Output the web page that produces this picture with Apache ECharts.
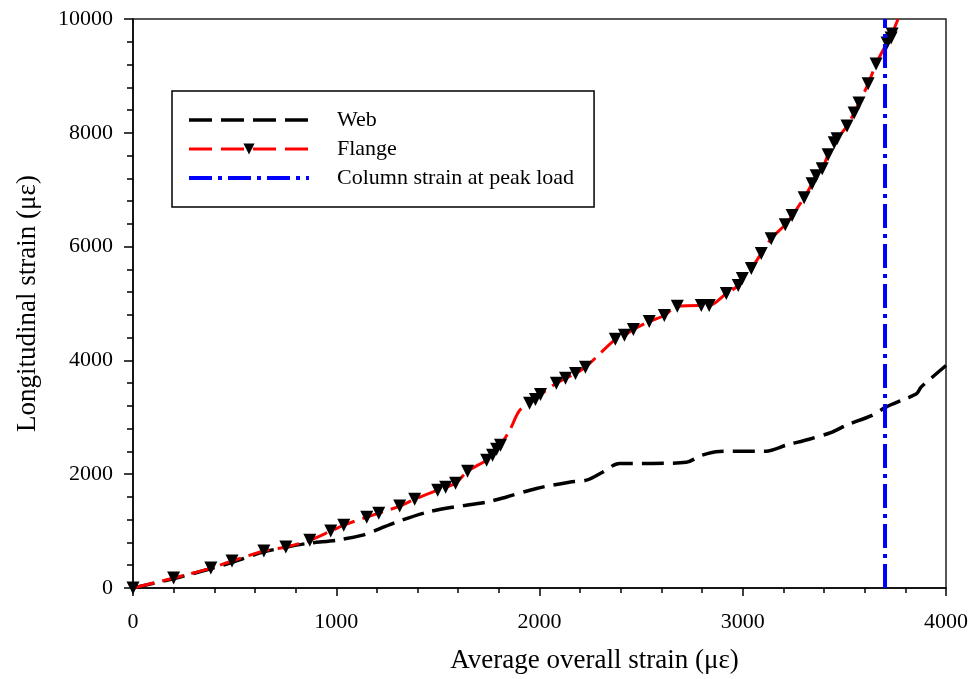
<!DOCTYPE html>
<html>
<head>
<meta charset="utf-8">
<script src="https://cdn.jsdelivr.net/npm/echarts@6/dist/echarts.min.js"></script>
<style>
  html, body { margin: 0; padding: 0; background: #fff; }
  #main { width: 971px; height: 679px; }
</style>
</head>
<body>
<div id="main"></div>
<script>
// Web gauge: average overall strain vs longitudinal strain
var webX = [0, 240, 477, 639, 757, 870, 1002, 1130, 1199, 1297, 1445, 1572, 1740, 1838, 1985, 2147, 2231, 2310, 2393, 2555, 2722, 2800, 2885, 3115, 3214, 3327, 3440, 3509, 3636, 3705, 3803, 3857, 3877, 3931, 4000];
var webY = [0, 200, 440, 630, 720, 790, 840, 930, 1020, 1160, 1330, 1420, 1510, 1600, 1750, 1860, 1895, 2035, 2190, 2190, 2210, 2335, 2400, 2405, 2510, 2615, 2740, 2860, 3035, 3180, 3330, 3420, 3530, 3700, 3910];

// Flange gauge (markers); points listed in flangeNoMarker are line-only
var flangeX = [0, 200, 383, 487, 644, 752, 870, 973, 1037, 1150, 1209, 1312, 1386, 1499, 1538, 1587, 1646, 1740, 1769, 1789, 1808, 1853, 1902, 1951, 1980, 2005, 2083, 2128, 2177, 2226, 2373, 2418, 2462, 2540, 2614, 2678, 2796, 2835, 2919, 2978, 2998, 3042, 3091, 3140, 3209, 3243, 3302, 3341, 3361, 3391, 3420, 3450, 3464, 3513, 3548, 3572, 3617, 3656, 3710, 3730, 3735, 3764];
var flangeY = [0, 175, 350, 475, 650, 720, 840, 1000, 1105, 1245, 1315, 1440, 1560, 1720, 1770, 1840, 2050, 2245, 2335, 2440, 2510, 2770, 3120, 3245, 3315, 3400, 3600, 3685, 3770, 3880, 4370, 4440, 4545, 4685, 4790, 4950, 4965, 4965, 5175, 5315, 5440, 5615, 5880, 6140, 6385, 6545, 6860, 7105, 7245, 7370, 7615, 7825, 7895, 8120, 8350, 8525, 8860, 9210, 9580, 9665, 9735, 10000];
var flangeNoMarker = [1853, 1902, 3764];

// Column strain at peak load
var peakStrain = 3700;
var yRange = [0, 10000];

var webData = webX.map(function (x, i) { return [x, webY[i]]; });
var flangeData = flangeX.map(function (x, i) {
  var item = { value: [x, flangeY[i]] };
  if (flangeNoMarker.indexOf(x) >= 0) item.symbol = 'none';
  return item;
});
var peakData = yRange.map(function (y) { return [peakStrain, y]; });

var font = 'Liberation Serif';
var plain = function (v) { return String(v); };
var chart = echarts.init(document.getElementById('main'));

chart.setOption({
  animation: false,
  backgroundColor: '#fff',
  grid: { left: 133, right: 24, top: 19, bottom: 91, show: true, borderColor: '#222', borderWidth: 1.5 },
  legend: {
    orient: 'vertical',
    left: 172,
    top: 91,
    padding: [18, 20, 18, 15],
    itemWidth: 120,
    itemHeight: 14,
    itemGap: 7,
    borderColor: '#000',
    borderWidth: 1.5,
    textStyle: { fontFamily: font, fontSize: 22, color: '#000', padding: [0, 0, 0, 23] },
    data: [
      { name: 'Web', itemStyle: { opacity: 0 }, lineStyle: { width: 3.5, type: [23, 9] } },
      { name: 'Flange', lineStyle: { width: 3, type: [23, 9] } },
      { name: 'Column strain at peak load', itemStyle: { opacity: 0 }, lineStyle: { width: 4, type: [23, 6, 4, 6] } }
    ]
  },
  xAxis: {
    type: 'value',
    min: 0, max: 4000, interval: 1000,
    name: 'Average overall strain (με)',
    nameLocation: 'middle',
    nameGap: 59,
    nameTextStyle: { fontFamily: font, fontSize: 27, color: '#000', padding: [0, 0, 0, 110] },
    axisLine: { onZero: false, lineStyle: { color: '#000', width: 1.5 } },
    axisTick: { inside: false, length: 8, lineStyle: { color: '#000', width: 1.5 } },
    minorTick: { show: true, splitNumber: 5, length: 5, lineStyle: { color: '#000', width: 1.5 } },
    axisLabel: { fontFamily: font, fontSize: 22, color: '#000', margin: 23, formatter: plain },
    splitLine: { show: false }
  },
  yAxis: {
    type: 'value',
    min: 0, max: 10000, interval: 2000,
    name: 'Longitudinal strain (με)',
    nameLocation: 'middle',
    nameGap: 92,
    nameTextStyle: { fontFamily: font, fontSize: 27, color: '#000' },
    axisLine: { onZero: false, lineStyle: { color: '#000', width: 1.5 } },
    axisTick: { inside: false, length: 9, lineStyle: { color: '#000', width: 1.5 } },
    minorTick: { show: true, splitNumber: 5, length: 6, lineStyle: { color: '#000', width: 1.5 } },
    axisLabel: { fontFamily: font, fontSize: 22, color: '#000', margin: 20, formatter: plain },
    splitLine: { show: false }
  },
  series: [
    {
      name: 'Web',
      type: 'line',
      data: webData,
      smooth: 0.3,
      showSymbol: false,
      symbol: 'none',
      color: '#000',
      lineStyle: { color: '#000', width: 3.5, type: [22, 9] }
    },
    {
      name: 'Flange',
      type: 'line',
      data: flangeData,
      smooth: 0.3,
      symbol: 'triangle',
      symbolRotate: 180,
      symbolSize: 13,
      itemStyle: { color: '#000' },
      color: '#000',
      lineStyle: { color: '#ff0000', width: 3, type: [22, 8] }
    },
    {
      name: 'Column strain at peak load',
      type: 'line',
      data: peakData,
      symbol: 'none',
      color: '#0000ff',
      lineStyle: { color: '#0000ff', width: 4, type: [24, 6, 4, 6] },
      z: 5
    }
  ]
});
</script>
</body>
</html>
